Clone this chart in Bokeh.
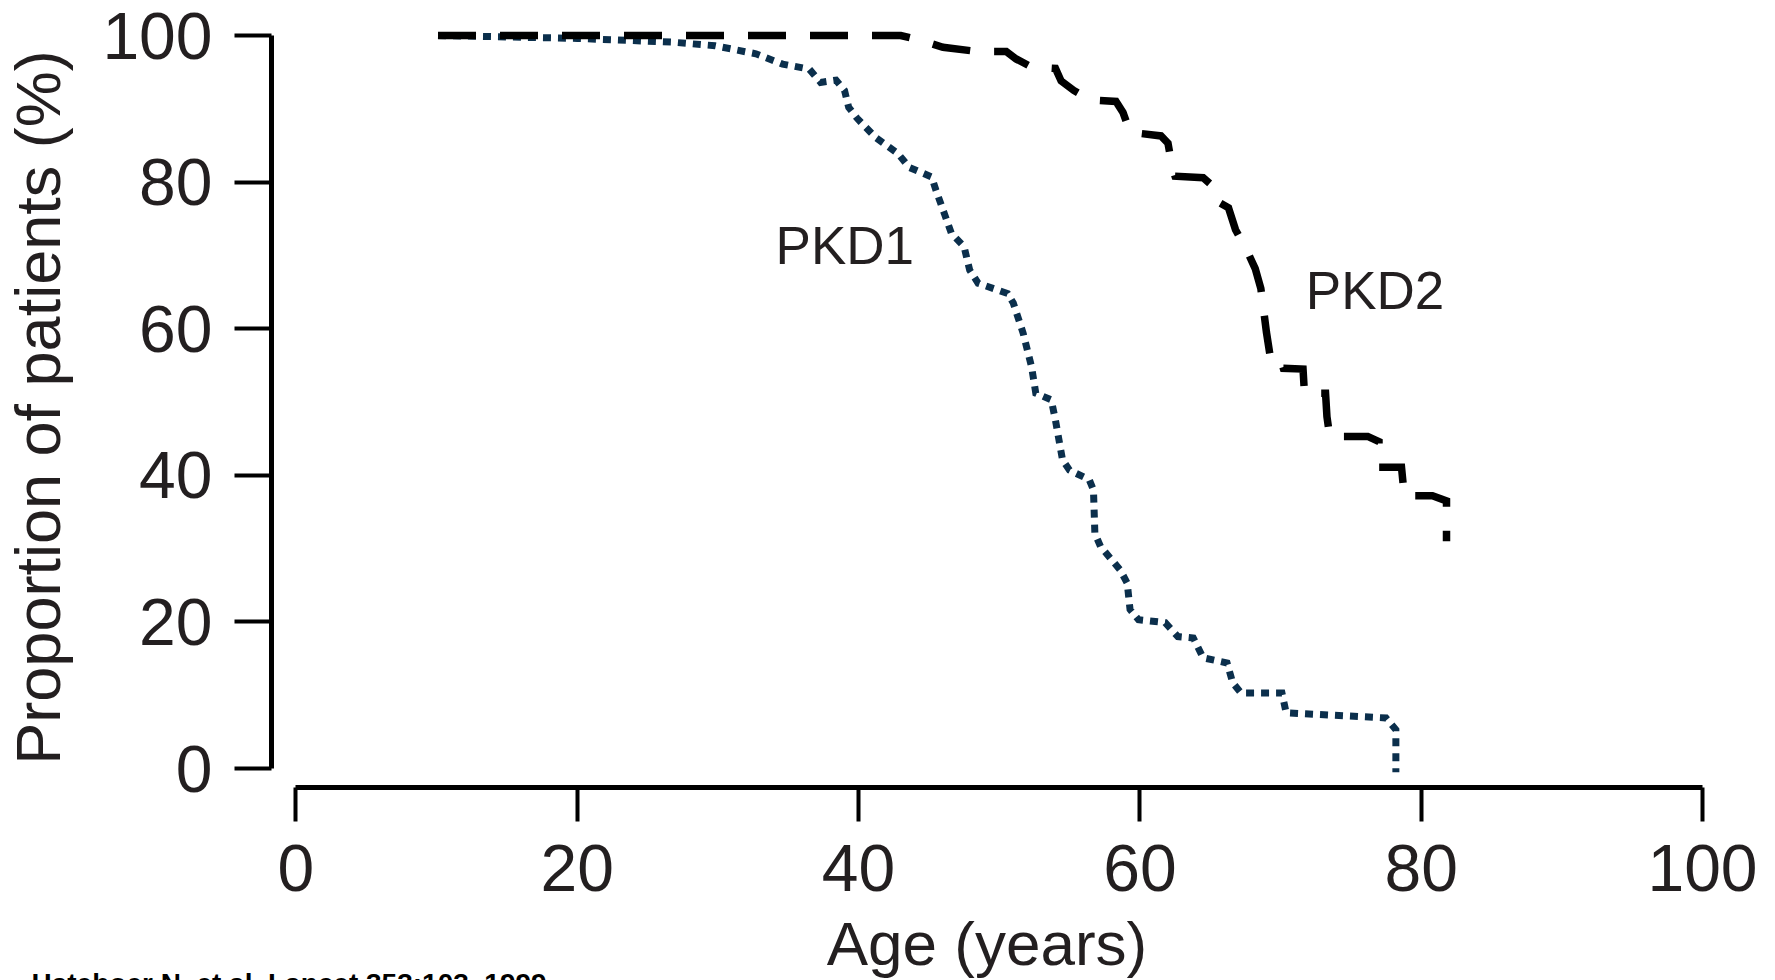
from bokeh.plotting import figure
from bokeh.models import FixedTicker, Label, Range1d, Title
from bokeh.embed import file_html
from bokeh.resources import INLINE

# ---- data ----
pkd1_age = [10.1, 20, 26.7, 29.8, 32.7, 34.6, 36.5, 37.3, 38.4, 39.0,
            39.3, 39.9, 41.2, 42.8, 43.6, 45.2, 45.5, 46.1, 46.6, 47.5,
            47.9, 48.5, 50.6, 51.0, 51.7, 52.3, 52.6, 53.7, 54.0, 54.5,
            55.0, 56.4, 56.7, 56.8, 57.2, 58.6, 59.1, 59.3, 59.9, 61.8,
            62.7, 63.8, 64.5, 66.2, 66.6, 67.2, 70.1, 70.4, 77.5, 78.2,
            78.2]
pkd1_pct = [100, 99.6, 99.1, 98.6, 97.5, 96.1, 95.4, 93.6, 93.9, 92.5,
            90.2, 88.7, 86.1, 83.9, 82.0, 80.7, 78.9, 75.7, 73.0, 71.2,
            68.0, 66.2, 64.8, 63.5, 59.4, 54.8, 51.2, 50.3, 47.5, 42.1,
            40.7, 39.4, 38.0, 32.1, 30.3, 27.1, 25.3, 21.7, 20.3, 19.9,
            18.0, 17.8, 15.1, 14.4, 11.7, 10.3, 10.3, 7.6, 6.9, 5.3,
            -0.5]

pkd2_age = [10.1, 43.0, 44.5, 46.0, 48.5, 50.5, 51.2, 52.3, 54.0, 54.4,
            55.3, 56.5, 58.3, 58.8, 59.3, 61.5, 62.0, 62.3, 62.5, 64.5,
            65.1, 65.4, 66.3, 66.8, 67.6, 68.2, 68.6, 69.0, 69.3, 70.0,
            70.2, 71.6, 71.7, 73.2, 73.3, 73.5, 76.2, 77.0, 77.0, 78.6,
            78.8, 80.8, 81.8, 81.8]
pkd2_pct = [100, 100, 99.3, 98.4, 97.8, 97.8, 96.8, 95.7, 95.5, 93.8,
            92.5, 91.2, 91.0, 89.5, 86.8, 86.3, 85.3, 82.0, 80.8, 80.6,
            79.6, 77.5, 76.5, 73.5, 70.7, 68.2, 65.5, 59.5, 55.8, 55.8,
            54.6, 54.5, 51.2, 51.2, 48.0, 45.3, 45.3, 44.6, 41.1, 41.1,
            37.2, 37.2, 36.5, 31.0]

x_ticks = [0, 20, 40, 60, 80, 100]
y_ticks = [0, 20, 40, 60, 80, 100]

series_labels = ["PKD1", "PKD2"]
x_title = "Age (years)"
y_title = "Proportion of patients (%)"
source_note = "Hateboer N, et al. Lancet 353:103\u20131999"

FONT = "Liberation Sans"
TXT = "#231f20"

W, H = 1775, 980
p = figure(width=W, height=H, output_backend="svg", toolbar_location=None,
           x_range=Range1d(-1.738, 100), y_range=Range1d(-2.589, 101.09),
           min_border_left=268, min_border_right=73,
           min_border_top=27, min_border_bottom=192)
p.outline_line_color = None
p.grid.visible = False
p.background_fill_color = "white"
p.border_fill_color = "white"

for ax, ticks, tick_out, standoff in ((p.xaxis, x_ticks, 34, 23),
                                      (p.yaxis, y_ticks, 37, 22)):
    ax.ticker = FixedTicker(ticks=ticks)
    ax.bounds = (0, 100)
    ax.axis_line_width = 5
    ax.axis_line_color = "black"
    ax.major_tick_line_width = 4
    ax.major_tick_line_color = "black"
    ax.major_tick_out = tick_out
    ax.major_tick_in = 0
    ax.minor_tick_out = 0
    ax.minor_tick_in = 0
    ax.major_label_standoff = standoff
    ax.major_label_text_font = FONT
    ax.major_label_text_font_size = "66px"
    ax.major_label_text_color = TXT
    ax.axis_label_text_font = FONT
    ax.axis_label_text_font_style = "normal"
    ax.axis_label_text_color = TXT

p.xaxis.axis_label = x_title
p.xaxis.axis_label_text_font_size = "62px"
p.xaxis.axis_label_standoff = 15
p.yaxis.axis_label = y_title
p.yaxis.axis_label_text_font_size = "63px"
p.yaxis.axis_label_standoff = 26

# curves
p.line(pkd1_age, pkd1_pct, line_color="#0b2f4c", line_width=7,
       line_dash="8 7", line_cap="butt", line_join="miter")
p.line(pkd2_age, pkd2_pct, line_color="black", line_width=7.5,
       line_dash="38 24", line_cap="butt", line_join="miter")

# curve labels
p.add_layout(Label(x=34.1, y=71.4, text=series_labels[0], text_font=FONT,
                   text_font_size="53px", text_color=TXT,
                   text_baseline="alphabetic", text_align="left"))
p.add_layout(Label(x=71.8, y=65.2, text=series_labels[1], text_font=FONT,
                   text_font_size="53px", text_color=TXT,
                   text_baseline="alphabetic", text_align="left"))

# source note, cut off at the bottom edge as in the reference
p.add_layout(Title(text=source_note, align="left", text_font=FONT,
                   text_font_size="28px", text_font_style="bold",
                   text_color="black", standoff=-37, offset=-240), "below")

open("out.html", "w").write(file_html(p, INLINE))
